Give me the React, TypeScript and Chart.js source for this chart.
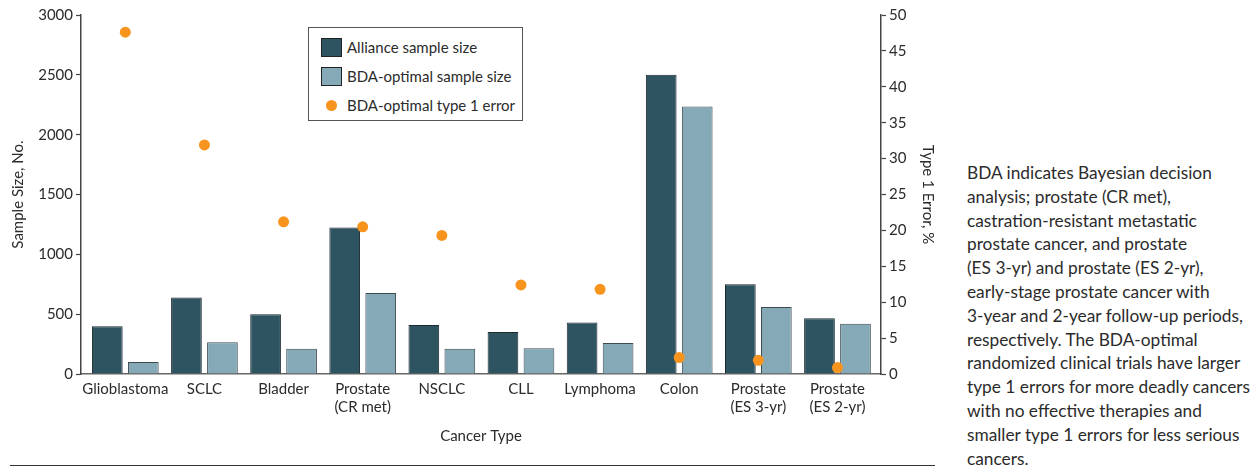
import React, { useEffect, useRef } from "react";
import { Chart, registerables } from "chart.js";

Chart.register(...registerables);

const categories: string[][] = [
  ["Glioblastoma"],
  ["SCLC"],
  ["Bladder"],
  ["Prostate", "(CR met)"],
  ["NSCLC"],
  ["CLL"],
  ["Lymphoma"],
  ["Colon"],
  ["Prostate", "(ES 3-yr)"],
  ["Prostate", "(ES 2-yr)"],
];
const allianceSampleSize = [400, 640, 500, 1225, 410, 350, 430, 2500, 750, 465];
const bdaSampleSize = [100, 265, 210, 676, 210, 215, 260, 2235, 560, 420];
const bdaType1Error = [47.6, 31.9, 21.2, 20.5, 19.3, 12.4, 11.8, 2.3, 1.9, 0.9];

const seriesLabels = ["Alliance sample size", "BDA-optimal sample size", "BDA-optimal type 1 error"];
const leftAxisTitle = "Sample Size, No.";
const rightAxisTitle = "Type 1 Error, %";
const xAxisTitle = "Cancer Type";
const noteLines = [
  "BDA indicates Bayesian decision",
  "analysis; prostate (CR met),",
  "castration-resistant metastatic",
  "prostate cancer, and prostate",
  "(ES 3-yr) and prostate (ES 2-yr),",
  "early-stage prostate cancer with",
  "3-year and 2-year follow-up periods,",
  "respectively. The BDA-optimal",
  "randomized clinical trials have larger",
  "type 1 errors for more deadly cancers",
  "with no effective therapies and",
  "smaller type 1 errors for less serious",
  "cancers.",
];

const DARK = "#2E5361";
const LIGHT = "#86A9B8";
const ORANGE = "#F7941D";
const TEXT = "#2b2b2b";
const FONT = "Lato, 'Open Sans', sans-serif";

export default function App() {
  const ref = useRef<HTMLCanvasElement | null>(null);

  useEffect(() => {
    if (!ref.current) return;
    const tickFont = { family: FONT, size: 15 };
    const chart = new Chart(ref.current, {
      data: {
        labels: categories,
        datasets: [
          {
            type: "line",
            label: seriesLabels[2],
            data: bdaType1Error,
            yAxisID: "y1",
            showLine: false,
            pointRadius: 5.5,
            pointHoverRadius: 5.5,
            pointBackgroundColor: ORANGE,
            pointBorderWidth: 0,
            borderColor: ORANGE,
            backgroundColor: ORANGE,
            order: 0,
          } as any,
          {
            type: "bar",
            label: seriesLabels[0],
            data: allianceSampleSize,
            yAxisID: "y",
            backgroundColor: DARK,
            borderColor: "#1c2a30",
            borderWidth: 1,
            barPercentage: 0.853,
            categoryPercentage: 0.91,
            order: 1,
          },
          {
            type: "bar",
            label: seriesLabels[1],
            data: bdaSampleSize,
            yAxisID: "y",
            backgroundColor: LIGHT,
            borderColor: "#3d4b51",
            borderWidth: 1,
            barPercentage: 0.853,
            categoryPercentage: 0.91,
            order: 1,
          },
        ],
      },
      options: {
        animation: false,
        responsive: false,
        maintainAspectRatio: false,
        layout: { padding: { top: 15, left: 0, right: 0, bottom: 0 } },
        plugins: {
          legend: { display: false },
          tooltip: { enabled: false },
        },
        scales: {
          x: {
            type: "category",
            offset: true,
            grid: { display: false, drawTicks: false },
            border: { display: true, color: "#666", width: 1.5 },
            ticks: { color: TEXT, font: tickFont, padding: 6, maxRotation: 0, autoSkip: false },
            title: {
              display: true,
              text: xAxisTitle,
              color: TEXT,
              font: { family: FONT, size: 15 },
              padding: { top: 0, bottom: 25 },
            },
            afterBuildTicks: (s: any) => {
              s._startValue = -0.56;
              s._valueRange = 10.11;
            },
            afterFit: (s: any) => {
              s.height = 96;
            },
          },
          y: {
            type: "linear",
            position: "left",
            min: 0,
            max: 3000,
            ticks: { stepSize: 500, color: TEXT, font: tickFont, padding: 3, callback: (v: any) => String(v) },
            grid: { display: true, drawOnChartArea: false, drawTicks: true, tickLength: 5, tickColor: "#444", tickWidth: 1.2 },
            border: { display: true, color: "#444", width: 1.5 },
            title: {
              display: true,
              text: leftAxisTitle,
              color: TEXT,
              font: { family: FONT, size: 15 },
              padding: { top: 9, bottom: 0 },
            },
            afterFit: (s: any) => {
              s.width = 81;
            },
          },
          y1: {
            type: "linear",
            position: "right",
            min: 0,
            max: 50,
            ticks: { stepSize: 5, color: TEXT, font: tickFont, padding: 3, callback: (v: any) => String(v) },
            grid: { display: true, drawOnChartArea: false, drawTicks: true, tickLength: 5, tickColor: "#444", tickWidth: 1.2 },
            border: { display: true, color: "#444", width: 1.5 },
            title: {
              display: true,
              text: rightAxisTitle,
              color: TEXT,
              font: { family: FONT, size: 15 },
              padding: { top: 3, bottom: 0 },
            },
            afterFit: (s: any) => {
              s.width = 59;
            },
          },
        },
      },
    });
    return () => chart.destroy();
  }, []);

  const swatch = (bg: string) => (
    <span
      style={{
        position: "absolute",
        left: 12,
        top: -9,
        width: 19,
        height: 17,
        background: bg,
        border: "1px solid #222",
      }}
    />
  );

  const rowStyle = (top: number): React.CSSProperties => ({
    position: "absolute",
    left: 0,
    top,
    height: 0,
    width: "100%",
  });

  const labelStyle: React.CSSProperties = {
    position: "absolute",
    left: 38,
    top: -10,
    lineHeight: "20px",
    fontSize: 15,
    whiteSpace: "nowrap",
    color: TEXT,
  };

  return (
    <div
      style={{
        position: "absolute",
        left: 0,
        top: 0,
        width: 1254,
        height: 470,
        background: "#fff",
        fontFamily: FONT,
        overflow: "hidden",
      }}
    >
      <canvas ref={ref} width={940} height={470} style={{ position: "absolute", left: 0, top: 0, width: 940, height: 470 }} />
      <div
        style={{
          position: "absolute",
          left: 308,
          top: 27,
          width: 213,
          height: 92,
          border: "1px solid #555",
          background: "#fff",
        }}
      >
        <div style={rowStyle(19)}>
          {swatch(DARK)}
          <span style={labelStyle}>{seriesLabels[0]}</span>
        </div>
        <div style={rowStyle(48)}>
          {swatch(LIGHT)}
          <span style={labelStyle}>{seriesLabels[1]}</span>
        </div>
        <div style={rowStyle(77)}>
          <span
            style={{
              position: "absolute",
              left: 17,
              top: -5.5,
              width: 11,
              height: 11,
              borderRadius: "50%",
              background: ORANGE,
            }}
          />
          <span style={labelStyle}>{seriesLabels[2]}</span>
        </div>
      </div>
      <div
        style={{
          position: "absolute",
          left: 10,
          top: 465,
          width: 925,
          height: 0,
          borderTop: "1.5px solid #333",
        }}
      />
      <div
        style={{
          position: "absolute",
          left: 967,
          top: 161,
          fontSize: 17.3,
          lineHeight: "23.8px",
          color: TEXT,
          whiteSpace: "nowrap",
        }}
      >
        {noteLines.map((l, i) => (
          <div key={i}>{l}</div>
        ))}
      </div>
    </div>
  );
}
